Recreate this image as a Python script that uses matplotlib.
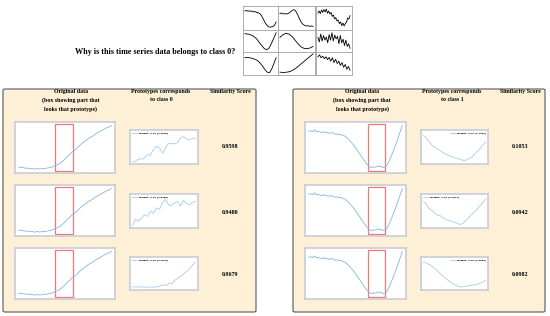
import numpy as np
import matplotlib.pyplot as plt
from matplotlib.patches import FancyBboxPatch, Rectangle

W, H = 550, 316

# ---- data (normalised 0..1) ----
orig_class0 = [0.05, 0.05, 0.04, 0.03, 0.03, 0.02, 0.02, 0.01, 0.02, 0.01,
               0.02, 0.02, 0.03, 0.04, 0.05, 0.07, 0.10, 0.11, 0.15, 0.19,
               0.24, 0.30, 0.34, 0.40, 0.43, 0.48, 0.53, 0.58, 0.62, 0.66,
               0.70, 0.73, 0.76, 0.80, 0.83, 0.86, 0.89, 0.92, 0.95, 0.97, 1.00]
orig_class1 = [0.87, 0.88, 0.86, 0.90, 0.86, 0.87, 0.85, 0.84, 0.86, 0.83,
               0.84, 0.82, 0.84, 0.82, 0.80, 0.81, 0.79, 0.80, 0.77, 0.76,
               0.72, 0.68, 0.63, 0.58, 0.53, 0.46, 0.40, 0.34, 0.27, 0.21,
               0.15, 0.10, 0.06, 0.04, 0.06, 0.05, 0.08, 0.06, 0.07, 0.04,
               0.05, 0.10, 0.18, 0.28, 0.39, 0.50, 0.62, 0.74, 0.87, 1.00]
box_class0 = (0.39, 0.59)
box_class1 = (0.63, 0.82)

proto_class0 = [
    [0.00, 0.02, 0.08, 0.12, 0.10, 0.18, 0.28, 0.24, 0.42, 0.55, 0.58, 0.48,
     0.32, 0.50, 0.68, 0.70, 0.68, 0.68, 0.74, 0.90, 0.95, 0.92, 0.82, 0.86, 0.88, 0.90],
    [0.02, 0.25, 0.18, 0.30, 0.42, 0.36, 0.55, 0.48, 0.68, 0.62, 0.88, 1.00,
     0.80, 0.76, 0.86, 0.92, 0.75, 0.96, 0.84, 0.80, 0.88, 0.92],
    [0.03, 0.05, 0.04, 0.03, 0.04, 0.03, 0.03, 0.04, 0.03, 0.04, 0.05, 0.10,
     0.12, 0.10, 0.18, 0.16, 0.30, 0.35, 0.45, 0.48, 0.60, 0.66, 0.78, 0.90, 1.00],
]
proto_class1 = [
    [1.00, 0.90, 0.78, 0.65, 0.56, 0.50, 0.44, 0.36, 0.30, 0.26, 0.22, 0.18,
     0.14, 0.12, 0.08, 0.05, 0.08, 0.14, 0.18, 0.30, 0.40, 0.50, 0.62, 0.75],
    [0.92, 0.82, 0.65, 0.58, 0.48, 0.40, 0.38, 0.30, 0.24, 0.20, 0.18, 0.12,
     0.10, 0.05, 0.10, 0.20, 0.30, 0.42, 0.52, 0.62, 0.75, 0.88, 1.00],
    [1.00, 0.96, 0.90, 0.84, 0.74, 0.64, 0.52, 0.42, 0.32, 0.24, 0.16, 0.10,
     0.06, 0.04, 0.06, 0.08, 0.10, 0.12, 0.14, 0.18, 0.22, 0.30],
]
scores_class0 = ["0.9598", "0.9480", "0.9679"]
scores_class1 = ["0.1053", "0.0942", "0.0982"]
legend_class0 = ["weight: 0.15 (0.9598)", "weight: 0.15 (0.9480)", "weight: 0.15 (0.9679)"]
legend_class1 = ["weight: 0.15 (0.1053)", "weight: 0.15 (0.0942)", "weight: 0.15 (0.0982)"]

# 3x3 grid of example series at the top (columns)
grid_series = [
    [[0.85, 0.88, 0.84, 0.86, 0.83, 0.85, 0.80, 0.82, 0.78, 0.76, 0.72, 0.64, 0.50, 0.35,
      0.22, 0.12, 0.06, 0.04, 0.06, 0.08, 0.15, 0.30],
     [0.90, 0.88, 0.86, 0.80, 0.72, 0.60, 0.42, 0.25, 0.10, 0.02, 0.10, 0.35, 0.65, 0.95],
     [0.80, 0.82, 0.80, 0.78, 0.74, 0.70, 0.62, 0.50, 0.35, 0.18, 0.05, 0.02, 0.20, 0.50, 0.80]],
    [[0.72, 0.75, 0.70, 0.72, 0.70, 0.74, 0.80, 0.88, 0.92, 0.85, 0.70, 0.50, 0.32, 0.20,
      0.14, 0.10, 0.12, 0.08, 0.10, 0.08],
     [0.70, 0.85, 0.92, 0.88, 0.75, 0.55, 0.35, 0.18, 0.10, 0.08, 0.12, 0.20],
     [0.05, 0.03, 0.04, 0.06, 0.10, 0.18, 0.28, 0.40, 0.52, 0.64, 0.76, 0.88, 1.00]],
    [[0.75, 0.85, 0.72, 0.90, 0.78, 0.92, 0.80, 0.95, 0.74, 0.85, 0.70, 0.78, 0.58, 0.65,
      0.45, 0.52, 0.35, 0.40, 0.22, 0.30, 0.12, 0.25, 0.10, 0.22, 0.30, 0.50, 0.45, 0.62],
     [0.70, 0.45, 0.88, 0.50, 0.80, 0.55, 0.72, 0.40, 0.85, 0.55, 0.95, 0.50, 0.82, 0.62,
      0.75, 0.35, 0.80, 0.40, 0.60, 0.25, 0.55, 0.20, 0.35, 0.10],
     [0.85, 0.95, 0.80, 0.88, 0.75, 0.85, 0.70, 0.82, 0.62, 0.80, 0.55, 0.72, 0.50, 0.62,
      0.40, 0.55, 0.30, 0.45, 0.20, 0.35, 0.15]],
]


def rect(x0, y0, x1, y1):
    return [x0 / W, 1 - y1 / H, (x1 - x0) / W, (y1 - y0) / H]


def small_ax(fig, box, border='#c9ccd8', lw=1.2):
    ax = fig.add_axes(rect(*box))
    ax.set_xticks([])
    ax.set_yticks([])
    for s in ax.spines.values():
        s.set_color(border)
        s.set_linewidth(lw)
    return ax


fig = plt.figure(figsize=(5.5, 3.16), dpi=100)
fig.patch.set_facecolor('white')
font = 'Liberation Serif'

# top grid
col_x = [(243, 278), (278, 315), (316, 352)]
row_y = [(6, 30), (30, 52), (52, 75)]
for c, (x0, x1) in enumerate(col_x):
    for r, (y0, y1) in enumerate(row_y):
        ax = small_ax(fig, (x0, y0, x1, y1), border='#a0a0a0', lw=0.6)
        ys = grid_series[c][r]
        ax.plot(np.arange(len(ys)), ys, color='black', lw=0.6)
        ax.set_ylim(-0.1, 1.1)
        ax.margins(x=0.06)

fig.text(235 / W, 1 - 52 / H, 'Why is this time series data belongs to class 0?',
         ha='right', va='center', fontsize=5.9, fontweight='bold', family=font)

# panels
panels = [
    dict(x0=3, x1=256, orig=orig_class0, box=box_class0, protos=proto_class0,
         scores=scores_class0, legends=legend_class0, cls='0',
         ox=(15, 115), px=(130, 198), hx=(71, 161, 230),
         leg_loc=['upper left', 'upper left', 'upper left']),
    dict(x0=293, x1=545, orig=orig_class1, box=box_class1, protos=proto_class1,
         scores=scores_class1, legends=legend_class1, cls='1',
         ox=(305, 406), px=(421, 488), hx=(362, 452, 520),
         leg_loc=['upper right', 'upper left', 'upper right']),
]
orig_rows = [(122, 173), (185, 236), (248, 299)]
proto_rows = [(130, 164), (194, 228), (257, 290)]
score_y = [147, 213, 274]

for p in panels:
    bg = FancyBboxPatch((p['x0'] / W, 1 - 312 / H), (p['x1'] - p['x0']) / W, (312 - 89) / H,
                        boxstyle='round,pad=0,rounding_size=0.004', transform=fig.transFigure,
                        facecolor='#fdf0d7', edgecolor='#6a6a6a', lw=0.9, zorder=-5)
    fig.add_artist(bg)

    hx = p['hx']
    fig.text(hx[0] / W, 1 - 89 / H, 'Original data\n(box showing part that\nlooks that prototype)',
             ha='center', va='top', fontsize=4.2, fontweight='bold', family=font, linespacing=1.75)
    fig.text(hx[1] / W, 1 - 89 / H, 'Prototypes corresponds\nto class ' + p['cls'],
             ha='center', va='top', fontsize=4.2, fontweight='bold', family=font, linespacing=1.75)
    fig.text(hx[2] / W, 1 - 89 / H, 'Similarity Score',
             ha='center', va='top', fontsize=4.2, fontweight='bold', family=font)

    for i in range(3):
        ax = small_ax(fig, (p['ox'][0], orig_rows[i][0], p['ox'][1], orig_rows[i][1]))
        ys = p['orig']
        xs = np.linspace(0, 1, len(ys))
        ax.plot(xs, ys, color='#86b6df', lw=0.6)
        ax.add_patch(Rectangle((p['box'][0], -0.03), p['box'][1] - p['box'][0], 1.06,
                               fill=False, edgecolor='#f07878', lw=0.9))
        ax.set_xlim(-0.04, 1.04)
        ax.set_ylim(-0.08, 1.08)

        ax = small_ax(fig, (p['px'][0], proto_rows[i][0], p['px'][1], proto_rows[i][1]))
        ys = p['protos'][i]
        xs = np.linspace(0, 1, len(ys))
        ax.plot(xs, ys, color='#a9cbea', lw=0.6, label=p['legends'][i])
        ax.set_xlim(-0.04, 1.04)
        ax.set_ylim(-0.08, 1.2)
        ax.legend(loc=p['leg_loc'][i], prop={'size': 1.7, 'weight': 'bold'}, frameon=False,
                  handlelength=2, borderpad=0.4)

        fig.text(hx[2] / W, 1 - score_y[i] / H, p['scores'][i], ha='center', va='center',
                 fontsize=4.3, fontweight='bold', family=font)

fig.savefig('out.png', dpi=100)
